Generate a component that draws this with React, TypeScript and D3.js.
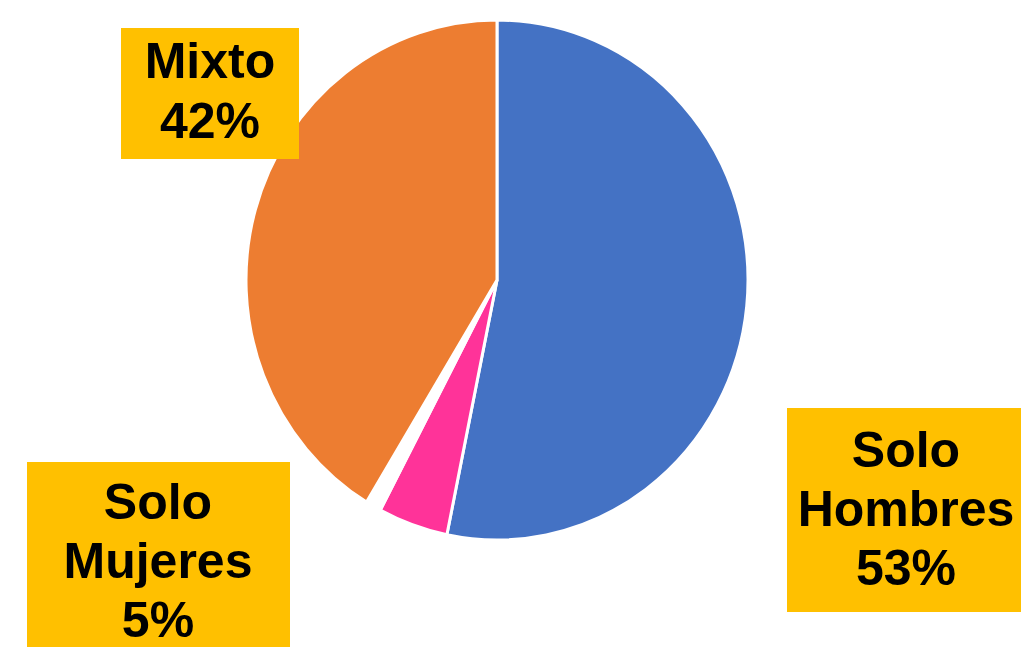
import React from "react";
import * as d3 from "d3";

const categories = ["Solo Hombres", "Solo Mujeres", "Otro", "Mixto"];
const values = [53.2, 4.5, 1.0, 41.3];
const colors = ["#4472C4", "#FF3399", "#FFFFFF", "#ED7D31"];

const labelLines = [
  ["Solo", "Hombres", "53%"],
  ["Solo", "Mujeres", "5%"],
  ["Mixto", "42%"],
];

const W = 1021;
const H = 647;

export default function App() {
  const cx = 497;
  const cy = 280;
  const rx = 251;
  const ry = 260;
  const data = categories.map((c, i) => ({ c, v: values[i], color: colors[i] }));
  const pie = d3.pie<any>().value((d) => d.v).sort(null);
  const arcs = pie(data);
  const arc = d3.arc<any>().innerRadius(0).outerRadius(rx);

  const boxes = [
    { x: 787, y: 408, w: 234, h: 204, lines: labelLines[0], tx: 906, by: 467, dy: 59 },
    { x: 27, y: 462, w: 263, h: 185, lines: labelLines[1], tx: 158, by: 519, dy: 59 },
    { x: 121, y: 28, w: 178, h: 131, lines: labelLines[2], tx: 210, by: 78, dy: 60 },
  ];

  return (
    <svg width={W} height={H} style={{ position: "absolute", left: 0, top: 0, background: "#fff" }}>
      <g transform={`translate(${cx},${cy}) scale(1,${ry / rx})`}>
        {arcs.map((a, i) => (
          <path
            key={i}
            d={arc(a) || ""}
            fill={a.data.color}
            stroke="#fff"
            strokeWidth={3}
          />
        ))}
      </g>
      {boxes.map((b, i) => (
        <g key={i}>
          <rect x={b.x} y={b.y} width={b.w} height={b.h} fill="#FFC000" />
          {b.lines.map((t, j) => (
            <text
              key={j}
              x={b.tx}
              y={b.by + j * b.dy}
              textAnchor="middle"
              fontFamily="'Liberation Sans', Arial, sans-serif"
              fontWeight="bold"
              fontSize={50}
              fill="#000"
            >
              {t}
            </text>
          ))}
        </g>
      ))}
    </svg>
  );
}
